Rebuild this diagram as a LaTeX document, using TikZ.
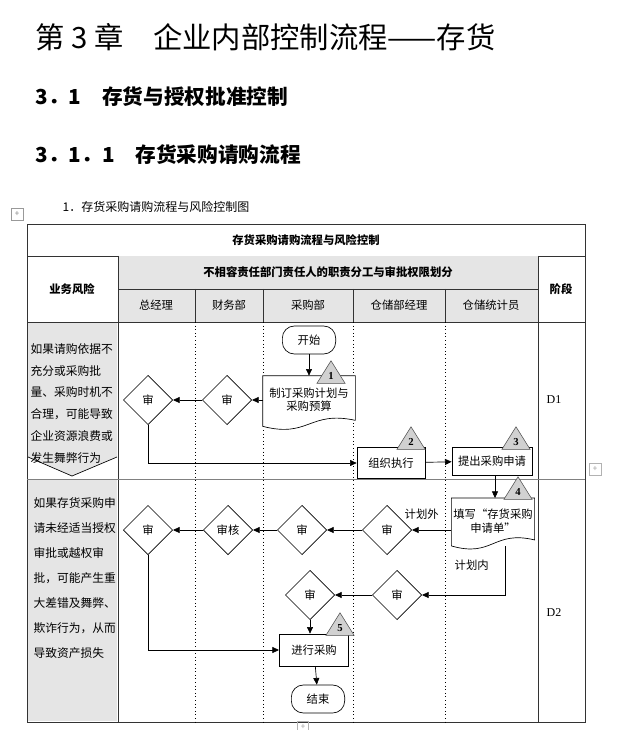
\documentclass[tikz,border=0pt]{standalone}
\usepackage{fontspec}
\setmainfont{Noto Sans CJK SC}
\newfontfamily\serifnum{Liberation Serif}
\usetikzlibrary{arrows.meta,shapes.geometric,calc}
\begin{document}
\begin{tikzpicture}[x=0.75pt,y=-0.75pt,
  every node/.style={font=\fontsize{8.5pt}{10pt}\selectfont},
  grid/.style={draw=black!80,line width=0.6pt},
  dot/.style={dotted,line width=0.7pt},
  dia/.style={diamond,draw,line width=0.5pt,minimum width=37pt,minimum height=37pt,inner sep=0pt,fill=white},
  box/.style={rectangle,draw,line width=0.5pt,fill=white,inner sep=1pt},
  term/.style={rectangle,rounded corners=9pt,draw,line width=0.5pt,fill=white,minimum width=40pt,minimum height=21pt},
  tri/.style={isosceles triangle,isosceles triangle apex angle=64,shape border rotate=90,draw=black!70,fill=black!18,minimum height=17pt,inner sep=0pt,font=\serifnum\bfseries\fontsize{8pt}{8pt}\selectfont},
  arr/.style={-{Triangle[length=5pt,width=4.5pt]},line width=0.5pt},
  lbl/.style={font=\fontsize{8.5pt}{10pt}\selectfont,anchor=west},
  risk/.style={anchor=west,font=\fontsize{8.8pt}{10pt}\selectfont}]
\useasboundingbox (0,0) rectangle (640,730);
\fill[white] (0,0) rectangle (640,730);
% headings
\node[anchor=west,font=\fontsize{22pt}{24pt}\selectfont] (h1) at (31,37) {第 3 章\quad 企业内部控制流程——存货};
\node[anchor=west,font=\bfseries\fontsize{15.5pt}{17pt}\selectfont] (h2) at (31,97) {3．1\quad 存货与授权批准控制};
\node[anchor=west,font=\bfseries\fontsize{15.5pt}{17pt}\selectfont] (h3) at (31,155) {3．1．1\quad 存货采购请购流程};
\node[anchor=west,font=\fontsize{9pt}{10pt}\selectfont] (h4) at (58,207) {1．存货采购请购流程与风险控制图};
\node[draw=black!40,minimum size=9pt,inner sep=0pt,font=\fontsize{6pt}{6pt}\selectfont,text=black!50] (mv) at (17,214) {+};
% table frame
\draw[grid] (27,224) rectangle (585,722);
\draw[grid] (27,256) -- (585,256);
\fill[black!10] (118,256) rectangle (538,322);
\draw[grid] (118,256) -- (118,722);
\draw[grid] (538,256) -- (538,722);
\draw[grid] (118,289) -- (538,289);
\draw[grid] (27,322) -- (585,322);
\foreach \x in {195,263,353,445} \draw[grid] (\x,289) -- (\x,322);
\foreach \x in {195,263,353,445} \draw[dot] (\x,322) -- (\x,722);
\draw[black!50,line width=0.4pt] (27,479) -- (585,479);
% left gray column
\fill[black!10] (28,323) -- (117,323) -- (117,457) -- (72,476) -- (28,457) -- cycle;
\draw[line width=0.5pt] (117,457) -- (72,476) -- (28,457);
\fill[black!10] (28,480) rectangle (117,721);
% header texts
\node[font=\bfseries\fontsize{8.5pt}{10pt}\selectfont] (t0) at (306,240) {存货采购请购流程与风险控制};
\node[font=\bfseries\fontsize{8.5pt}{10pt}\selectfont] (t1) at (328,272) {不相容责任部门责任人的职责分工与审批权限划分};
\node[font=\bfseries\fontsize{8.5pt}{10pt}\selectfont] (t2) at (72,289) {业务风险};
\node[font=\bfseries\fontsize{8.5pt}{10pt}\selectfont] (t3) at (561,289) {阶段};
\node (c1) at (156,305) {总经理};
\node (c2) at (229,305) {财务部};
\node (c3) at (308,305) {采购部};
\node (c4) at (399,305) {仓储部经理};
\node (c5) at (491,305) {仓储统计员};
% risk texts
\foreach \t [count=\i] in {如果请购依据不,充分或采购批,量、采购时机不,合理，可能导致,企业资源浪费或,发生舞弊行为}
  \node[risk] at (26,327+21.8*\i) {\t};
\foreach \t [count=\i] in {如果存货采购申,请未经适当授权,审批或越权审,批，可能产生重,大差错及舞弊、,欺诈行为，从而,导致资产损失}
  \node[risk] at (29,478+25*\i) {\t};
\node[font=\serifnum\fontsize{9pt}{10pt}\selectfont,anchor=west] (p1) at (542,400) {D1};
\node[font=\serifnum\fontsize{9pt}{10pt}\selectfont,anchor=west] (p2) at (542,613) {D2};
% D1 flow
\node[term] (start) at (309,340) {开始};
\node[box,draw=none,fill=none,minimum width=69pt,minimum height=36pt,align=center] (plan) at (309,400) {};
\draw[line width=0.5pt,fill=white] (plan.north west) -- (plan.north east) -- ($(plan.south east)+(0,-4)$) .. controls ($(plan.south)+(0,-14)$) and ($(plan.south)+(0,14)$) .. ($(plan.south west)+(0,2)$) -- cycle;
\node[align=center] (plantxt) at (plan.center) {制订采购计划与\\采购预算};
\node[tri] (k1) at (331,376) {1};
\node[dia] (a1) at (227,400) {审};
\node[dia] (a2) at (148,400) {审};
\node[box,minimum width=51pt,minimum height=23pt] (exec) at (391,463) {组织执行};
\node[tri] (k2) at (411,442) {2};
\node[box,minimum width=60pt,minimum height=21pt] (req) at (492,461) {提出采购申请};
\node[tri] (k3) at (516,442) {3};
\draw[arr] (start) -- (plan);
\draw[arr] (plan.west) -- (a1);
\draw[arr] (a1) -- (a2);
\draw[arr] (a2.south) |- (exec.west);
\draw[arr] (exec) -- (req);
% D2 flow
\node[draw=none,minimum width=62pt,minimum height=34pt,align=center] (fill) at (493,521) {};
\draw[line width=0.5pt,fill=white] (fill.north west) -- (fill.north east) -- ($(fill.south east)+(0,-4)$) .. controls ($(fill.south)+(0,-14)$) and ($(fill.south)+(0,14)$) .. ($(fill.south west)+(0,2)$) -- cycle;
\node[align=center] (filltxt) at (493,521) {填写“存货采购\\申请单”};
\node[tri] (k4) at (518,492) {4};
\draw[arr] (req.south -| 495,0) -- (fill.north -| 495,0);
\node[dia] (b1) at (387,530) {审};
\node[dia] (b2) at (302,530) {审};
\node[dia] (b3) at (228,530) {审核};
\node[dia] (b4) at (148,530) {审};
\draw[arr] (fill.west |- b1) -- (b1);
\draw[arr] (b1) -- (b2);
\draw[arr] (b2) -- (b3);
\draw[arr] (b3) -- (b4);
\node[lbl] (l1) at (400,514) {计划外};
\node[lbl] (l2) at (450,565) {计划内};
\node[dia] (c1d) at (397,595) {审};
\node[dia] (c2d) at (310,595) {审};
\coordinate (fb) at (505,546);
\draw[arr] (fb) |- (c1d.east);
\draw[arr] (c1d) -- (c2d);
\node[box,minimum width=52pt,minimum height=24pt] (buy) at (314,650) {进行采购};
\node[tri] (k5) at (340,628) {5};
\draw[arr] (c2d.south) -- (c2d.south |- buy.north);
\draw[arr] (b4.south) |- (buy.west);
\node[term] (end) at (318,699) {结束};
\draw[arr] (buy) -- (end);
% small handles
\node[draw=black!30,minimum size=9pt,inner sep=0pt,text=black!40,font=\fontsize{6pt}{6pt}\selectfont] (hd1) at (595,469) {+};
\node[draw=black!30,minimum size=8pt,inner sep=0pt,text=black!40,font=\fontsize{6pt}{6pt}\selectfont] (hd2) at (303,727) {+};
\end{tikzpicture}
\end{document}
